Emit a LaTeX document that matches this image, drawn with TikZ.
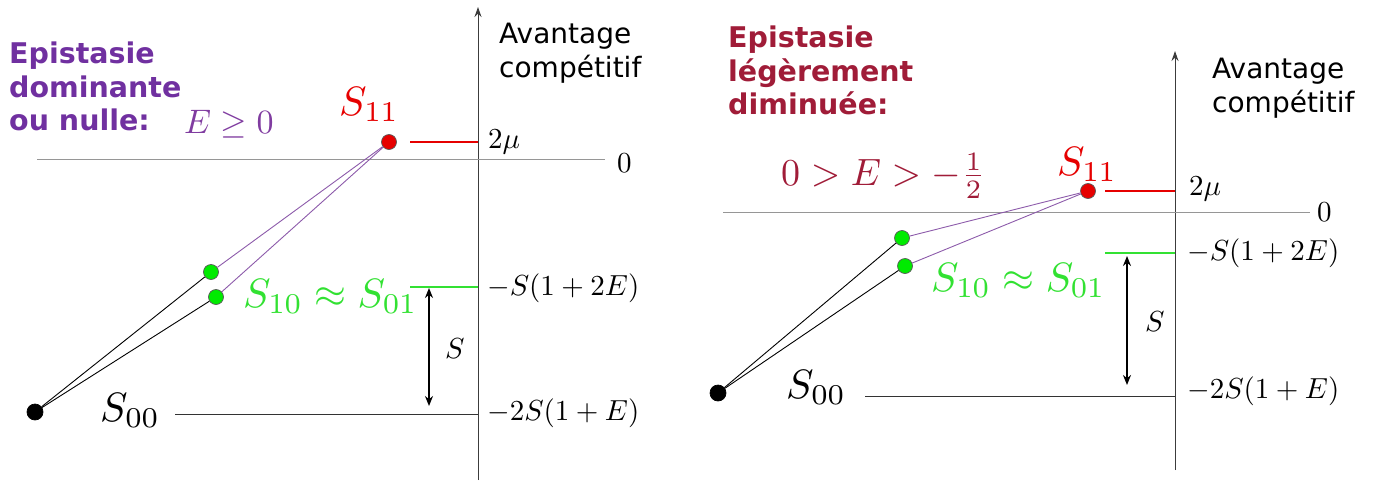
\documentclass[tikz,border=0pt]{standalone}
\usepackage{fontspec}
\newfontfamily\dejavu{DejaVu Sans}
\usetikzlibrary{arrows.meta}
\definecolor{titlepurple}{RGB}{112,48,160}
\definecolor{condpurple}{RGB}{128,60,160}
\definecolor{linkpurple}{RGB}{140,90,170}
\definecolor{titlered}{RGB}{160,28,56}
\definecolor{brightred}{RGB}{230,0,0}
\definecolor{brightgreen}{RGB}{50,225,50}
\definecolor{dotgreen}{RGB}{0,235,0}
\definecolor{levelgray}{RGB}{150,150,150}
\definecolor{axisgray}{RGB}{60,60,60}
\newcommand{\scaledmath}[2]{\scalebox{#1}{$#2$}}
\begin{document}
\begin{tikzpicture}[x=1pt,y=-1pt,
  dot/.style={circle,inner sep=0pt,minimum size=15pt,draw=black!65,line width=0.7pt},
  reddot/.style={dot,fill=brightred},
  greendot/.style={dot,fill=dotgreen},
  blackdot/.style={dot,fill=black,draw=black,minimum size=16pt},
  axisline/.style={draw=axisgray,line width=1pt,-{Stealth[length=10pt,width=7pt]}},
  zeroline/.style={draw=levelgray,line width=1pt},
  sanslabel/.style={inner sep=0pt,anchor=north west,align=left,font=\dejavu\fontsize{28}{33.5}\selectfont},
  titlelabel/.style={inner sep=0pt,anchor=north west,align=left,font=\dejavu\bfseries\fontsize{28.5}{33.5}\selectfont},
  mathlabel/.style={inner sep=0pt,anchor=base west,font=\fontsize{10}{12}\selectfont},
  redlevel/.style={draw=brightred,line width=1.1pt},
  greenlevel/.style={draw=brightgreen,line width=1.1pt},
  blacklevel/.style={draw=black!80,line width=1pt},
  blacklink/.style={draw=black,line width=0.9pt},
  purplelink/.style={draw=linkpurple,line width=0.9pt},
  spanarrow/.style={draw=black,line width=1.8pt,{Stealth[length=10pt,width=8pt]}-{Stealth[length=10pt,width=8pt]}}
]
\useasboundingbox (0,0) rectangle (1377,485);

% ================= LEFT PANEL =================
\coordinate (Lbot) at (478,480);
\coordinate (Ltop) at (478,7);
\draw[axisline] (Lbot) -- (Ltop);
\node[sanslabel] (Lavant) at (499,23) {Avantage\\compétitif};
\node[titlelabel,text=titlepurple] (Ltitle) at (9,42) {Epistasie\\dominante\\ou nulle:};
\node[mathlabel,text=condpurple] (Lcond) at (184,133) {\scaledmath{3.4}{E\geq 0}};

% zero line
\coordinate (LzeroA) at (37,159);
\coordinate (LzeroB) at (605,159);
\draw[zeroline] (LzeroA) -- (LzeroB);
\node[mathlabel] (Lzero) at (617,172) {\scaledmath{2.9}{0}};

% dots
\node[reddot] (L11) at (389,142) {};
\node[greendot] (L10) at (211,272) {};
\node[greendot] (L01) at (216,297) {};
\node[blackdot] (L00) at (35,412) {};

\draw[blacklink] (L00) -- (L10);
\draw[blacklink] (L00) -- (L01);
\draw[purplelink] (L10) -- (L11);
\draw[purplelink] (L01) -- (L11);

% labels of genotypes
\node[mathlabel,text=brightred] (L11lab) at (339,115) {\scaledmath{4.1}{S_{11}}};
\node[mathlabel,text=brightgreen] (L10lab) at (243,307) {\scaledmath{4.1}{S_{10}\approx S_{01}}};
\node[mathlabel] (L00lab) at (100,421) {\scaledmath{4.1}{S_{00}}};

% level lines
\coordinate (Lred) at (410,142);
\coordinate (LredAx) at (478,142);
\draw[redlevel] (Lred) -- (LredAx);
\coordinate (Lgreen) at (410,287);
\coordinate (LgreenAx) at (478,287);
\draw[greenlevel] (Lgreen) -- (LgreenAx);
\coordinate (Lblack) at (175,414);
\coordinate (LblackAx) at (478,414);
\draw[blacklevel] (Lblack) -- (LblackAx);

\node[mathlabel] (L2mu) at (488,148) {\scaledmath{2.9}{2\mu}};
\node[mathlabel] (Lval10) at (487,295) {\scaledmath{2.9}{-S(1+2E)}};
\node[mathlabel] (Lval00) at (487,420) {\scaledmath{2.9}{-2S(1+E)}};

% span arrow
\coordinate (LspanT) at (429,288);
\coordinate (LspanB) at (429,406);
\draw[spanarrow] (LspanT) -- (LspanB);
\node[mathlabel] (LS) at (445,358) {\scaledmath{2.9}{S}};

% ================= RIGHT PANEL =================
\coordinate (Rbot) at (1175,470);
\coordinate (Rtop) at (1175,51);
\draw[axisline] (Rbot) -- (Rtop);
\node[sanslabel] (Ravant) at (1212,58) {Avantage\\compétitif};
\node[titlelabel,text=titlered] (Rtitle) at (728,26) {Epistasie\\légèrement\\diminuée:};
\node[mathlabel,text=titlered] (Rcond) at (781,185) {\scaledmath{3.8}{0>E>-\frac{1}{2}}};

\coordinate (RzeroA) at (723,212);
\coordinate (RzeroB) at (1310,212);
\draw[zeroline] (RzeroA) -- (RzeroB);
\node[mathlabel] (Rzero) at (1317,221) {\scaledmath{2.9}{0}};

\node[reddot] (R11) at (1088,191) {};
\node[greendot] (R10) at (902,238) {};
\node[greendot] (R01) at (905,266) {};
\node[blackdot] (R00) at (718,393) {};

\draw[blacklink] (R00) -- (R10);
\draw[blacklink] (R00) -- (R01);
\draw[purplelink] (R10) -- (R11);
\draw[purplelink] (R01) -- (R11);

\node[mathlabel,text=brightred] (R11lab) at (1057,175) {\scaledmath{4.1}{S_{11}}};
\node[mathlabel,text=brightgreen] (R10lab) at (931,291) {\scaledmath{4.1}{S_{10}\approx S_{01}}};
\node[mathlabel] (R00lab) at (786,398) {\scaledmath{4.1}{S_{00}}};

\coordinate (Rred) at (1105,191);
\coordinate (RredAx) at (1175,191);
\draw[redlevel] (Rred) -- (RredAx);
\coordinate (Rgreen) at (1105,253);
\coordinate (RgreenAx) at (1175,253);
\draw[greenlevel] (Rgreen) -- (RgreenAx);
\coordinate (Rblack) at (865,396);
\coordinate (RblackAx) at (1175,396);
\draw[blacklevel] (Rblack) -- (RblackAx);

\node[mathlabel] (R2mu) at (1189,195) {\scaledmath{2.9}{2\mu}};
\node[mathlabel] (Rval10) at (1187,260) {\scaledmath{2.9}{-S(1+2E)}};
\node[mathlabel] (Rval00) at (1187,398) {\scaledmath{2.9}{-2S(1+E)}};

\coordinate (RspanT) at (1127,256);
\coordinate (RspanB) at (1127,385);
\draw[spanarrow] (RspanT) -- (RspanB);
\node[mathlabel] (RS) at (1145,331) {\scaledmath{2.9}{S}};
\end{tikzpicture}
\end{document}
